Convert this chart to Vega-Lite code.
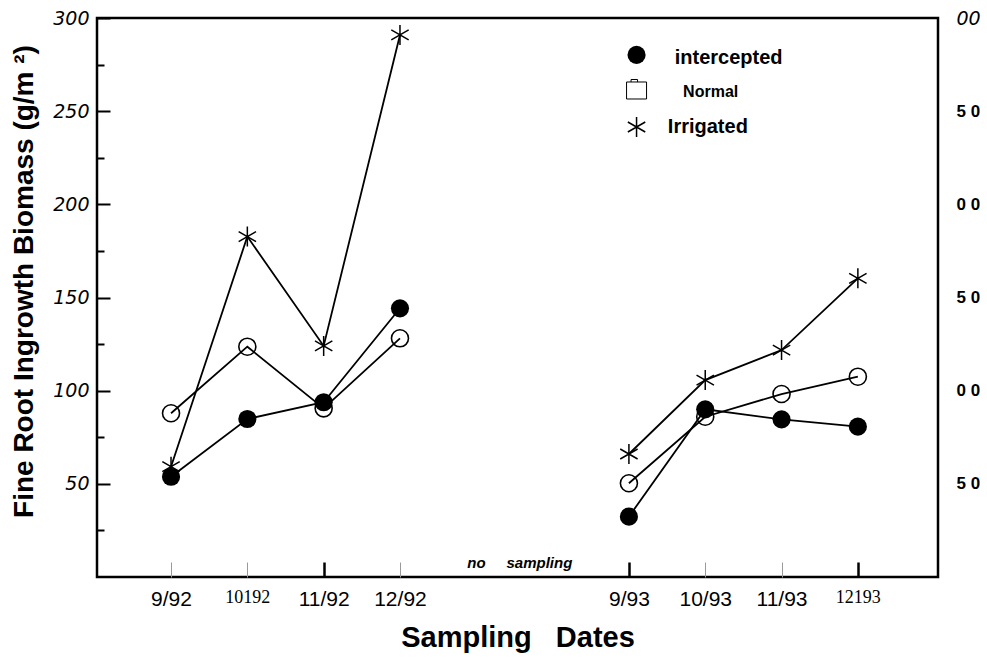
{
  "$schema": "https://vega.github.io/schema/vega-lite/v6.json",
  "width": 841,
  "height": 559,
  "autosize": {"type": "none"},
  "padding": {"left": 97, "top": 18, "right": 49, "bottom": 81},
  "background": "white",
  "config": {
    "view": {"stroke": "black", "strokeWidth": 2.5},
    "axis": {"grid": false, "domain": false}
  },
  "datasets": {
    "obs": [
      {"series": "intercepted", "period": "1992", "idx": 0, "value": 53.8},
      {"series": "intercepted", "period": "1992", "idx": 1, "value": 84.8},
      {"series": "intercepted", "period": "1992", "idx": 2, "value": 93.8},
      {"series": "intercepted", "period": "1992", "idx": 3, "value": 144.2},
      {"series": "intercepted", "period": "1993", "idx": 6, "value": 32.4},
      {"series": "intercepted", "period": "1993", "idx": 7, "value": 90.0},
      {"series": "intercepted", "period": "1993", "idx": 8, "value": 84.6},
      {"series": "intercepted", "period": "1993", "idx": 9, "value": 80.7},
      {"series": "Normal", "period": "1992", "idx": 0, "value": 87.9},
      {"series": "Normal", "period": "1992", "idx": 1, "value": 123.6},
      {"series": "Normal", "period": "1992", "idx": 2, "value": 90.5},
      {"series": "Normal", "period": "1992", "idx": 3, "value": 128.1},
      {"series": "Normal", "period": "1993", "idx": 6, "value": 50.3},
      {"series": "Normal", "period": "1993", "idx": 7, "value": 86.0},
      {"series": "Normal", "period": "1993", "idx": 8, "value": 98.2},
      {"series": "Normal", "period": "1993", "idx": 9, "value": 107.5},
      {"series": "Irrigated", "period": "1992", "idx": 0, "value": 59.2},
      {"series": "Irrigated", "period": "1992", "idx": 1, "value": 182.7},
      {"series": "Irrigated", "period": "1992", "idx": 2, "value": 124.0},
      {"series": "Irrigated", "period": "1992", "idx": 3, "value": 290.9},
      {"series": "Irrigated", "period": "1993", "idx": 6, "value": 66.0},
      {"series": "Irrigated", "period": "1993", "idx": 7, "value": 105.7},
      {"series": "Irrigated", "period": "1993", "idx": 8, "value": 121.8},
      {"series": "Irrigated", "period": "1993", "idx": 9, "value": 160.3}
    ],
    "legend": [
      {"kind": "sym", "series": "intercepted", "label": "", "idx": 6.10, "value": 280.2},
      {"kind": "sym", "series": "Normal", "label": "", "idx": 6.10, "value": 261.9},
      {"kind": "sym", "series": "Irrigated", "label": "", "idx": 6.10, "value": 241.5},
      {"kind": "txt", "series": "intercepted", "label": "intercepted", "idx": 6.60, "value": 278.6},
      {"kind": "txt", "series": "Normal", "label": "Normal", "idx": 6.71, "value": 260.3},
      {"kind": "txt", "series": "Irrigated", "label": "Irrigated", "idx": 6.51, "value": 241.4}
    ],
    "note": [
      {"label": "no\u00a0\u00a0\u00a0\u00a0\u00a0sampling", "idx": 4.57, "value": 7.5}
    ]
  },
  "data": {"name": "obs"},
  "resolve": {"axis": {"y": "independent"}},
  "layer": [
    {
      "layer": [
        {
          "mark": {"type": "line", "color": "black", "strokeWidth": 1.8},
          "encoding": {
            "x": {
              "field": "idx", "type": "quantitative",
              "scale": {"domain": [-0.97, 10.05], "nice": false, "zero": false},
              "axis": {
                "title": "Sampling\u00a0\u00a0\u00a0Dates",
                "titleFont": "Liberation Sans", "titleFontSize": 29, "titleFontWeight": "bold", "titleColor": "black",
                "titlePadding": 14,
                "values": [0, 1, 2, 3, 6, 7, 8, 9],
                "labelExpr": "['9/92','10192','11/92','12/92','','','9/93','10/93','11/93','12193'][datum.value]",
                "labelFont": {"condition": {"test": "datum.value == 1 || datum.value == 9", "value": "Liberation Serif"}, "value": "Liberation Sans"},
                "labelFontSize": {"condition": {"test": "datum.value == 1 || datum.value == 9", "value": 18}, "value": 21},
                "labelColor": "black",
                "labelPadding": 26,
                "labelFlush": false,
                "labelOverlap": false,
                "tickSize": -15,
                "tickColor": {"condition": {"test": "datum.value == 2 || datum.value == 6 || datum.value == 9", "value": "black"}, "value": "#999999"},
                "tickWidth": {"condition": {"test": "datum.value == 2 || datum.value == 6 || datum.value == 9", "value": 2.5}, "value": 1}
              }
            },
            "y": {
              "field": "value", "type": "quantitative",
              "scale": {"domain": [0, 300], "nice": false, "zero": false},
              "axis": {
                "title": "Fine Root Ingrowth Biomass (g/m \u00b2)",
                "titleFont": "Liberation Sans", "titleFontSize": 28, "titleFontWeight": "bold", "titleColor": "black",
                "titlePadding": 14,
                "titleY": 263,
                "values": [25, 50, 75, 100, 125, 150, 175, 200, 225, 250, 275, 300],
                "labelExpr": "datum.value % 50 == 0 ? datum.label : ''",
                "labelFont": "DejaVu Sans", "labelFontStyle": "italic", "labelFontSize": 19, "labelColor": "black",
                "labelPadding": 21,
                "labelFlush": false,
                "labelOverlap": false,
                "tickSize": {"condition": {"test": "datum.value % 50 == 0", "value": -13}, "value": -7},
                "tickColor": "black",
                "tickWidth": 2
              }
            },
            "detail": [{"field": "series"}, {"field": "period"}]
          }
        },
        {
          "transform": [{"filter": "datum.series == 'Normal'"}],
          "mark": {"type": "point", "shape": "circle", "filled": false, "color": "black", "strokeWidth": 1.6, "size": 290, "opacity": 1},
          "encoding": {
            "x": {"field": "idx", "type": "quantitative", "scale": {"domain": [-0.97, 10.05], "nice": false, "zero": false}},
            "y": {"field": "value", "type": "quantitative", "scale": {"domain": [0, 300], "nice": false, "zero": false}}
          }
        },
        {
          "transform": [{"filter": "datum.series == 'intercepted'"}],
          "mark": {"type": "point", "shape": "circle", "filled": true, "color": "black", "size": 330, "opacity": 1},
          "encoding": {
            "x": {"field": "idx", "type": "quantitative", "scale": {"domain": [-0.97, 10.05], "nice": false, "zero": false}},
            "y": {"field": "value", "type": "quantitative", "scale": {"domain": [0, 300], "nice": false, "zero": false}}
          }
        },
        {
          "transform": [{"filter": "datum.series == 'Irrigated'"}],
          "mark": {"type": "point", "shape": "M0,-1L0,1M-0.87,-0.5L0.87,0.5M-0.87,0.5L0.87,-0.5", "filled": false, "color": "black", "strokeWidth": 1.5, "size": 400, "opacity": 1},
          "encoding": {
            "x": {"field": "idx", "type": "quantitative", "scale": {"domain": [-0.97, 10.05], "nice": false, "zero": false}},
            "y": {"field": "value", "type": "quantitative", "scale": {"domain": [0, 300], "nice": false, "zero": false}}
          }
        },
        {
          "data": {"name": "legend"},
          "transform": [{"filter": "datum.kind == 'sym' && datum.series == 'intercepted'"}],
          "mark": {"type": "point", "shape": "circle", "filled": true, "color": "black", "size": 330, "opacity": 1},
          "encoding": {
            "x": {"field": "idx", "type": "quantitative", "scale": {"domain": [-0.97, 10.05], "nice": false, "zero": false}},
            "y": {"field": "value", "type": "quantitative", "scale": {"domain": [0, 300], "nice": false, "zero": false}}
          }
        },
        {
          "data": {"name": "legend"},
          "transform": [{"filter": "datum.kind == 'sym' && datum.series == 'Normal'"}],
          "mark": {"type": "point", "shape": "M-1,-0.7L1,-0.7L1,1L-1,1ZM-0.55,-0.7L-0.55,-0.95L0.1,-0.95L0.1,-0.7", "filled": false, "color": "black", "strokeWidth": 1, "size": 400, "opacity": 1},
          "encoding": {
            "x": {"field": "idx", "type": "quantitative", "scale": {"domain": [-0.97, 10.05], "nice": false, "zero": false}},
            "y": {"field": "value", "type": "quantitative", "scale": {"domain": [0, 300], "nice": false, "zero": false}}
          }
        },
        {
          "data": {"name": "legend"},
          "transform": [{"filter": "datum.kind == 'sym' && datum.series == 'Irrigated'"}],
          "mark": {"type": "point", "shape": "M0,-1L0,1M-0.87,-0.5L0.87,0.5M-0.87,0.5L0.87,-0.5", "filled": false, "color": "black", "strokeWidth": 1.5, "size": 400, "opacity": 1},
          "encoding": {
            "x": {"field": "idx", "type": "quantitative", "scale": {"domain": [-0.97, 10.05], "nice": false, "zero": false}},
            "y": {"field": "value", "type": "quantitative", "scale": {"domain": [0, 300], "nice": false, "zero": false}}
          }
        },
        {
          "data": {"name": "legend"},
          "transform": [{"filter": "datum.kind == 'txt'"}],
          "mark": {"type": "text", "align": "left", "baseline": "middle", "font": "Liberation Sans", "fontWeight": "bold", "color": "black"},
          "encoding": {
            "x": {"field": "idx", "type": "quantitative", "scale": {"domain": [-0.97, 10.05], "nice": false, "zero": false}},
            "y": {"field": "value", "type": "quantitative", "scale": {"domain": [0, 300], "nice": false, "zero": false}},
            "text": {"field": "label"},
            "size": {"condition": {"test": "datum.label == 'Normal'", "value": 16}, "value": 20}
          }
        },
        {
          "data": {"name": "note"},
          "mark": {"type": "text", "align": "center", "baseline": "middle", "font": "Liberation Sans", "fontWeight": "bold", "fontStyle": "italic", "fontSize": 15, "color": "black"},
          "encoding": {
            "x": {"field": "idx", "type": "quantitative", "scale": {"domain": [-0.97, 10.05], "nice": false, "zero": false}},
            "y": {"field": "value", "type": "quantitative", "scale": {"domain": [0, 300], "nice": false, "zero": false}},
            "text": {"field": "label"}
          }
        }
      ]
    },
    {
      "mark": {"type": "point", "opacity": 0},
      "encoding": {
        "x": {"field": "idx", "type": "quantitative", "scale": {"domain": [-0.97, 10.05], "nice": false, "zero": false}},
        "y": {
          "field": "value", "type": "quantitative",
          "scale": {"domain": [0, 300], "nice": false, "zero": false},
          "axis": {
            "orient": "right",
            "title": null,
            "values": [50, 100, 150, 200, 250, 300],
            "labelExpr": "datum.value == 300 ? '00' : (datum.value % 100 == 0 ? '0 0' : '5 0')",
            "labelFont": {"condition": {"test": "datum.value == 300", "value": "DejaVu Sans"}, "value": "Liberation Sans"},
            "labelFontStyle": {"condition": {"test": "datum.value == 300", "value": "italic"}, "value": "normal"},
            "labelFontWeight": {"condition": {"test": "datum.value == 300", "value": "normal"}, "value": "bold"},
            "labelFontSize": {"condition": {"test": "datum.value == 300", "value": 19}, "value": 17},
            "labelColor": "black",
            "labelPadding": 18,
            "labelFlush": false,
            "labelOverlap": false,
            "ticks": false
          }
        }
      }
    }
  ]
}
